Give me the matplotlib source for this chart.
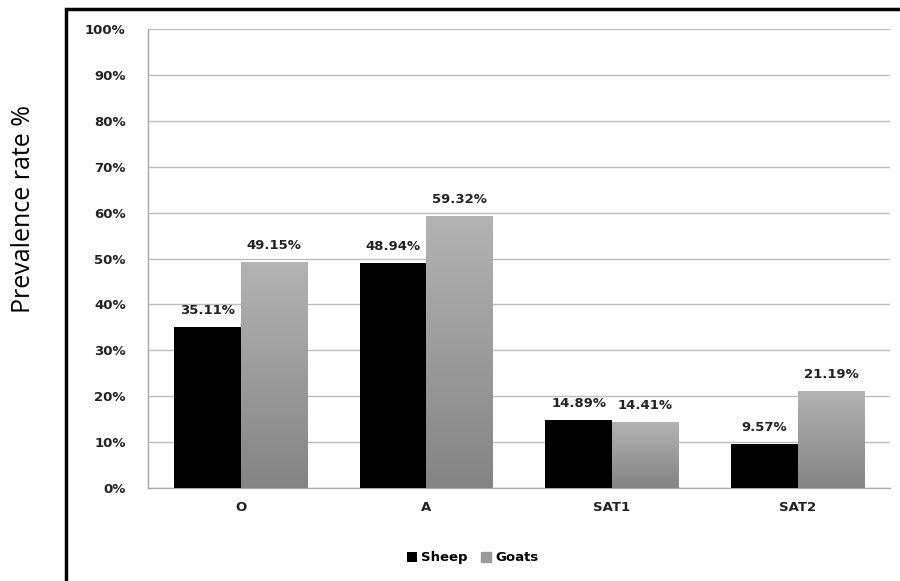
import numpy as np
import matplotlib.pyplot as plt
from matplotlib.patches import Rectangle
from matplotlib.colors import LinearSegmentedColormap
from matplotlib.ticker import FuncFormatter

# %% data
serotypes = ['O', 'A', 'SAT1', 'SAT2']
sheep = [35.11, 48.94, 14.89, 9.57]
goats = [49.15, 59.32, 14.41, 21.19]

# %% figure
fig = plt.figure(figsize=(9, 5.81), dpi=100)
ax = fig.add_axes([0.1644, 0.160, 0.825, 0.790])

x = np.arange(len(serotypes))
w = 0.36

bars_s = ax.bar(x - w/2, sheep, w, color='black', label='Sheep', zorder=3)
bars_g = ax.bar(x + w/2, goats, w, color='#9a9a9a', label='Goats', zorder=3)

# gradient fill on the goat bars
grad = LinearSegmentedColormap.from_list('g', ['#848484', '#b3b3b3'])
for b in bars_g:
    b.set_facecolor('none')
    x0, y0 = b.get_x(), b.get_y()
    im = ax.imshow(np.linspace(0, 1, 100).reshape(-1, 1), cmap=grad, origin='lower',
                   extent=[x0, x0 + b.get_width(), y0, y0 + b.get_height()],
                   aspect='auto', zorder=3)
    im.set_clip_path(b)

# value labels
for b, v in zip(list(bars_s) + list(bars_g), sheep + goats):
    ax.text(b.get_x() + b.get_width()/2, v + 2.2, '%.2f%%' % v,
            ha='center', va='bottom', fontsize=9.5, fontweight='bold', color='#222222')

ax.set_xlim(-0.5, 3.5)
ax.set_ylim(0, 100)
ax.set_yticks(range(0, 101, 10))
ax.yaxis.set_major_formatter(FuncFormatter(lambda v, p: '%d%%' % v))
ax.set_xticks(x)
ax.set_xticklabels(serotypes)
ax.grid(axis='y', color='#bdbdbd', linewidth=1.0, zorder=0)
for s in ['top', 'right']:
    ax.spines[s].set_visible(False)
for s in ['bottom', 'left']:
    ax.spines[s].set_color('#a8a8a8')
    ax.spines[s].set_linewidth(1.0)
ax.tick_params(length=0, pad=16)
ax.tick_params(axis='x', pad=9)
for lab in ax.get_xticklabels() + ax.get_yticklabels():
    lab.set_fontweight('bold')
    lab.set_fontsize(9.5)
    lab.set_color('#222222')

# outer chart frame
fig.patches.append(Rectangle((0.0733, -0.1), 1.0, 1.0845, transform=fig.transFigure,
                             fill=False, edgecolor='black', linewidth=2.5))

fig.text(0.026, 0.64, 'Prevalence rate %', rotation=90, ha='center', va='center',
         fontsize=18, family='Open Sans')

leg = fig.legend(handles=[bars_s, Rectangle((0, 0), 1, 1, color='#9a9a9a')],
                 labels=['Sheep', 'Goats'], loc='center', bbox_to_anchor=(0.525, 0.04),
                 ncol=2, frameon=False, handlelength=0.8, handleheight=0.8,
                 handletextpad=0.3, columnspacing=1.0,
                 prop={'weight': 'bold', 'size': 9.5})

fig.savefig('out.png', dpi=100)
